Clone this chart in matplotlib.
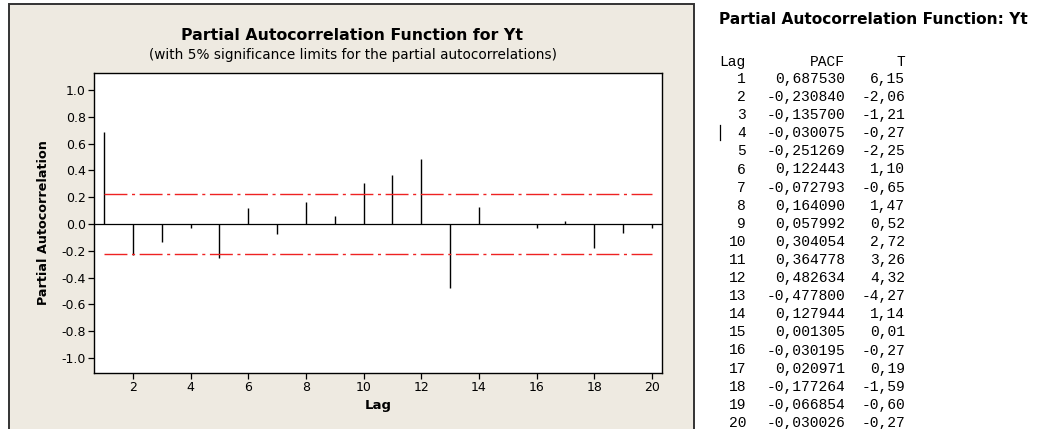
import matplotlib
matplotlib.use("Agg")
import matplotlib.pyplot as plt
import numpy as np
from matplotlib.lines import Line2D
from matplotlib.patches import Rectangle

# PACF output for Yt (read from the session window)
lags = list(range(1, 21))
pacf = [0.687530, -0.230840, -0.135700, -0.030075, -0.251269,
        0.122443, -0.072793, 0.164090, 0.057992, 0.304054,
        0.364778, 0.482634, -0.477800, 0.127944, 0.001305,
        -0.030195, 0.020971, -0.177264, -0.066854, -0.030026]
t_stat = [6.15, -2.06, -1.21, -0.27, -2.25,
          1.10, -0.65, 1.47, 0.52, 2.72,
          3.26, 4.32, -4.27, 1.14, 0.01,
          -0.27, 0.19, -1.59, -0.60, -0.27]
n_obs = 80
sig_limit = 2 / np.sqrt(n_obs)

y_ticks = [1.0, 0.8, 0.6, 0.4, 0.2, 0.0, -0.2, -0.4, -0.6, -0.8, -1.0]
x_ticks = [2, 4, 6, 8, 10, 12, 14, 16, 18, 20]

W, H = 1038, 429
BEIGE = "#eeeae1"
RED = "#ee2222"


def px(x, y):
    # pixel coords (top-left origin) -> figure fraction
    return x / W, 1 - y / H


def comma(v, nd):
    return f"{v:.{nd}f}".replace(".", ",")


fig = plt.figure(figsize=(W / 100, H / 100), dpi=100)
fig.patch.set_facecolor("white")

# graph window panel
x0, y0 = px(9, 4)
x1, _ = px(694, 4)
fig.add_artist(Rectangle((x0, -0.05), x1 - x0, y0 + 0.05, transform=fig.transFigure,
                         facecolor=BEIGE, edgecolor="#333333", lw=1.4, zorder=0))

ax = fig.add_axes([94 / W, 1 - 373 / H, 568 / W, 300 / H])
ax.set_facecolor("white")
ax.vlines(lags, 0, pacf, color="black", lw=1.0)
ax.axhline(0, color="black", lw=0.9)
dashdot = (0, (16.5, 3.3, 2.2, 3.3))
ax.plot([lags[0], lags[-1]], [sig_limit, sig_limit], color=RED, lw=1.0, linestyle=dashdot)
ax.plot([lags[0], lags[-1]], [-sig_limit, -sig_limit], color=RED, lw=1.0, linestyle=dashdot)

ax.set_xlim(0.647, 20.35)
ax.set_ylim(-1.112, 1.127)
ax.set_yticks(y_ticks)
ax.set_yticklabels([f"{v:.1f}" if v != 0 else "0.0" for v in y_ticks])
ax.set_xticks(x_ticks)
ax.tick_params(direction="out", length=4, width=0.9, labelsize=9, pad=2, color="black")
for s in ax.spines.values():
    s.set_linewidth(1.0)
ax.set_xlabel("Lag", fontsize=9.5, fontweight="bold", labelpad=3)
ax.set_ylabel("Partial Autocorrelation", fontsize=9.2, fontweight="bold", labelpad=8)

fig.text(*px(352, 35), "Partial Autocorrelation Function for Yt", ha="center", va="center",
         fontsize=11.3, fontweight="bold")
fig.text(*px(353, 55), "(with 5% significance limits for the partial autocorrelations)",
         ha="center", va="center", fontsize=9.8)

# session window text
fig.text(*px(719, 20), "Partial Autocorrelation Function: Yt", ha="left", va="center",
         fontsize=11.1, fontweight="bold")
mono = dict(family="Liberation Mono", fontsize=10.5, va="center")
fig.text(*px(719, 62), "Lag", ha="left", **mono)
fig.text(*px(845, 62), "PACF", ha="right", **mono)
fig.text(*px(905, 62), "T", ha="right", **mono)
for i, (lag, p, t) in enumerate(zip(lags, pacf, t_stat)):
    y = 79 + i * 18.1
    fig.text(*px(746, y), str(lag), ha="right", **mono)
    fig.text(*px(845, y), comma(p, 6), ha="right", **mono)
    fig.text(*px(905, y), comma(t, 2), ha="right", **mono)

# text cursor
fig.add_artist(Line2D([720 / W, 720 / W], [1 - 125 / H, 1 - 140 / H],
                      transform=fig.transFigure, color="black", lw=0.9))

fig.savefig("out.png", dpi=100)
